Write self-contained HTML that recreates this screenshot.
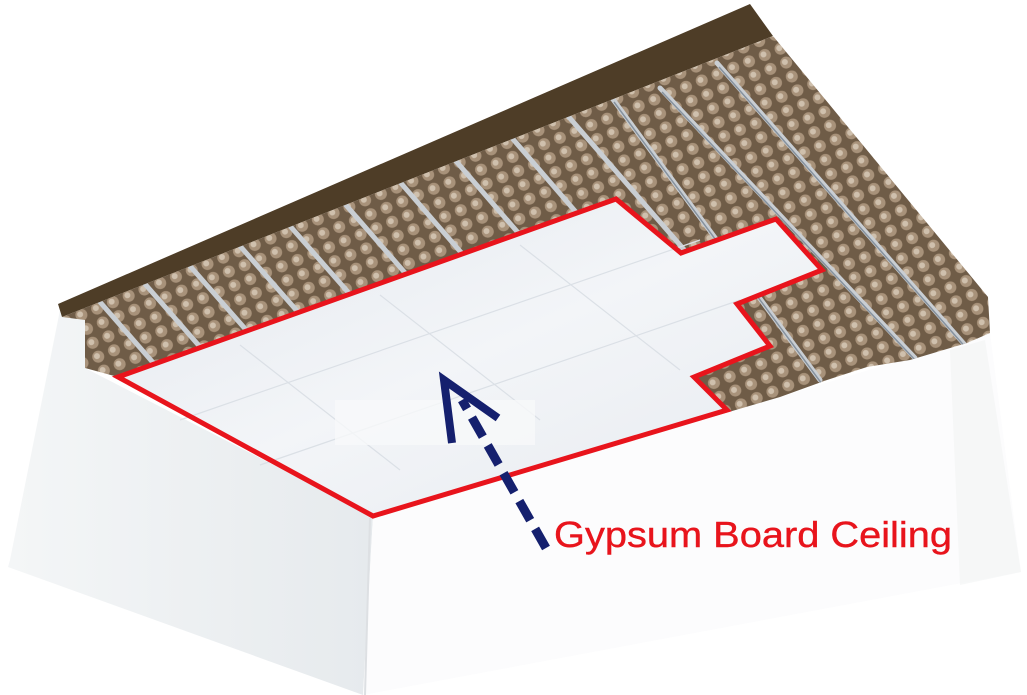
<!DOCTYPE html>
<html><head><meta charset="utf-8"><style>html,body{margin:0;padding:0;background:#fff;}svg{display:block}</style></head>
<body>
<svg width="1027" height="695" viewBox="0 0 1027 695" xmlns="http://www.w3.org/2000/svg">
<defs>
<pattern id="hex" width="17" height="15" patternUnits="userSpaceOnUse" patternTransform="rotate(-22)">
<rect width="17" height="15" fill="#6f5c47"/>
<circle cx="8.5" cy="7.5" r="6" fill="#a8927a"/>
<circle cx="7.5" cy="6.5" r="3" fill="#cfc0ad"/>
</pattern>
<linearGradient id="lw" x1="0" y1="0" x2="1" y2="0"><stop offset="0" stop-color="#f4f6f7"/><stop offset="1" stop-color="#e6eaed"/></linearGradient>
<linearGradient id="bd" x1="0" y1="0" x2="1" y2="1"><stop offset="0" stop-color="#e3e8ee"/><stop offset="0.5" stop-color="#f3f5f8"/><stop offset="1" stop-color="#e6eaef"/></linearGradient>
<clipPath id="ins"><polygon points="62,317 773,36 988,297 990,333 967,343 910,360 867,367 827,380 780,397 373,516 118,377 85,368 85,320"/></clipPath>
</defs>
<polygon points="60,310 85,320 85,368 373,516 363,695 8,567 10,560" fill="url(#lw)"/>
<polygon points="373,516 780,397 990,333 1021,572 363,695" fill="#fcfcfd"/>
<polygon points="985,340 1021,572 960,585 950,350" fill="#f1f3f4" opacity="0.6"/>
<line x1="370" y1="518" x2="365" y2="695" stroke="#dde0e3" stroke-width="2"/>
<polygon points="58,304 750,4 773,36 62,317" fill="#4e3d27"/>
<g clip-path="url(#ins)">
<rect x="0" y="0" width="1027" height="600" fill="url(#hex)"/>
<g stroke="#c9ced3" stroke-width="5" stroke-linecap="round">
<line x1="100" y1="302" x2="170" y2="382"/>
<line x1="145" y1="284" x2="215" y2="364"/>
<line x1="190" y1="266" x2="262" y2="348"/>
<line x1="240" y1="246" x2="312" y2="328"/>
<line x1="290" y1="226" x2="362" y2="308"/>
<line x1="345" y1="204" x2="420" y2="290"/>
<line x1="400" y1="182" x2="478" y2="272"/>
<line x1="455" y1="160" x2="540" y2="258"/>
<line x1="512" y1="138" x2="600" y2="240"/>
<line x1="568" y1="116" x2="700" y2="268"/>
<line x1="612" y1="98" x2="820" y2="380"/>
<line x1="660" y1="88" x2="915" y2="358"/>
<line x1="717" y1="63" x2="965" y2="345"/>
</g>
<g stroke="#5a6a7a" stroke-width="1.5" opacity="0.6">
<line x1="614" y1="102" x2="822" y2="384"/>
<line x1="662" y1="92" x2="917" y2="362"/>
<line x1="719" y1="67" x2="967" y2="349"/>
</g>
</g>
<polygon points="118,377 616,199 681,253 776,219 822,270 737,304 770,346 694,377 727,410 373,516" fill="url(#bd)"/>
<g stroke="#dbe0e6" stroke-width="1.2" fill="none">
<line x1="240" y1="345" x2="400" y2="470"/>
<line x1="380" y1="295" x2="540" y2="420"/>
<line x1="520" y1="245" x2="680" y2="370"/>
<line x1="180" y1="420" x2="700" y2="240"/>
<line x1="260" y1="465" x2="740" y2="300"/>
</g>
<rect x="335" y="400" width="200" height="45" fill="#f8f9fa" opacity="0.8"/>
<polygon points="118,377 616,199 681,253 776,219 822,270 737,304 770,346 694,377 727,410 373,516" fill="none" stroke="#e8141c" stroke-width="5" stroke-linejoin="miter"/>
<line x1="546" y1="548" x2="462" y2="400" stroke="#15206e" stroke-width="9" stroke-dasharray="22,10"/>
<polyline points="452,443 444,380 498,418" fill="none" stroke="#15206e" stroke-width="8"/>
<text x="554" y="547" font-family="Liberation Sans, Arial, sans-serif" font-size="36" fill="#e8141c" stroke="#e8141c" stroke-width="0.4" textLength="398" lengthAdjust="spacingAndGlyphs">Gypsum Board Ceiling</text>
</svg>
</body></html>
